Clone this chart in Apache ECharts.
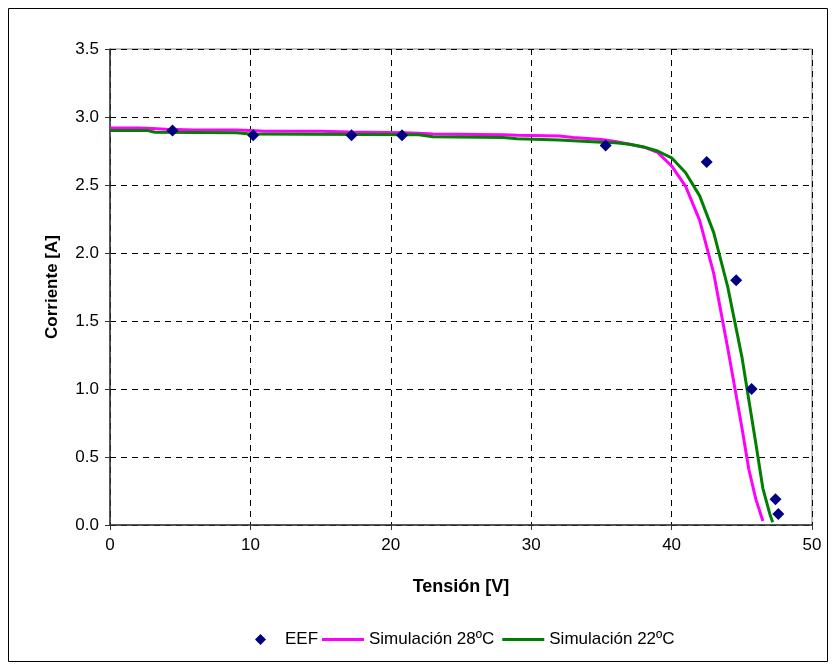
<!DOCTYPE html>
<html>
<head>
<meta charset="utf-8">
<script src="https://cdn.jsdelivr.net/npm/echarts@6/dist/echarts.min.js"></script>
<style>html,body{margin:0;padding:0;background:#fff}#c{width:835px;height:666px}</style>
</head>
<body>
<div id="c"></div>
<script>
const eefV = [4.45, 10.2, 17.2, 20.8, 35.3, 42.5, 44.6, 45.7, 47.4, 47.6];
const eefI = [2.90, 2.865, 2.865, 2.865, 2.79, 2.67, 1.80, 1.00, 0.19, 0.08];

const sim28V = [0, 2, 3, 4, 6, 9, 10, 11, 15, 17, 21, 22, 23, 28, 29, 32, 33, 35, 36, 37, 38, 39, 40, 41, 42, 43, 44, 45, 45.5, 46, 46.5];
const sim28I = [2.92, 2.92, 2.915, 2.91, 2.905, 2.905, 2.90, 2.895, 2.895, 2.89, 2.885, 2.88, 2.875, 2.87, 2.865, 2.86, 2.85, 2.835, 2.82, 2.80, 2.78, 2.74, 2.64, 2.49, 2.24, 1.85, 1.30, 0.72, 0.41, 0.19, 0.03];

const sim22V = [0, 2.7, 3.2, 9, 10, 22, 23, 28, 29, 32, 33, 35, 36, 37, 38, 39, 40, 41, 42, 43, 44, 45, 46, 46.5, 47, 47.2];
const sim22I = [2.90, 2.90, 2.888, 2.885, 2.875, 2.87, 2.855, 2.85, 2.84, 2.83, 2.825, 2.815, 2.81, 2.80, 2.78, 2.75, 2.70, 2.59, 2.42, 2.15, 1.75, 1.24, 0.60, 0.27, 0.08, 0.02];

const xName = 'Tensión [V]';
const yName = 'Corriente [A]';
const names = ['EEF', 'Simulación 28ºC', 'Simulación 22ºC'];

const zip = (a, b) => a.map((v, i) => [v, b[i]]);
const font = 'Liberation Sans, Arial, sans-serif';

const chart = echarts.init(document.getElementById('c'), null, {renderer: 'canvas'});
chart.setOption({
  animation: false,
  backgroundColor: '#fff',
  graphic: [{
    type: 'rect', shape: {x: 8.5, y: 8.5, width: 819, height: 653},
    style: {fill: 'none', stroke: '#000', lineWidth: 1}, silent: true, z: -1
  }],
  grid: {left: 110, right: 23, top: 49, bottom: 141, show: true, borderColor: '#808080', borderWidth: 1},
  xAxis: {
    type: 'value', min: 0, max: 50, interval: 10,
    name: xName, nameLocation: 'middle', nameGap: 53,
    nameTextStyle: {fontFamily: font, fontSize: 18, fontWeight: 'bold', color: '#000'},
    axisLine: {show: true, lineStyle: {color: '#333', width: 1.5}},
    axisTick: {show: true, length: 5, lineStyle: {color: '#333'}},
    axisLabel: {fontFamily: font, fontSize: 17, color: '#000', margin: 12},
    splitLine: {show: true, lineStyle: {color: '#000', type: [6, 5], width: 1}}
  },
  yAxis: {
    type: 'value', min: 0, max: 3.5, interval: 0.5,
    name: yName, nameLocation: 'middle', nameGap: 49, nameRotate: 90,
    nameTextStyle: {fontFamily: font, fontSize: 17, fontWeight: 'bold', color: '#000'},
    axisLine: {show: true, lineStyle: {color: '#333', width: 1.5}},
    axisTick: {show: true, length: 5, lineStyle: {color: '#333'}},
    axisLabel: {fontFamily: font, fontSize: 17, color: '#000', margin: 11, formatter: v => v.toFixed(1)},
    splitLine: {show: true, lineStyle: {color: '#000', type: [6, 5], width: 1}}
  },
  legend: [{
    left: 255, top: 631, padding: 0, itemWidth: 11, itemHeight: 11, itemGap: 8,
    data: [{name: names[0], icon: 'diamond'}],
    textStyle: {fontFamily: font, fontSize: 17, color: '#000', padding: [0, 0, 0, 14]}
  }, {
    left: 322, top: 631, padding: 0, itemWidth: 42, itemHeight: 3, itemGap: 8,
    data: [{name: names[1], icon: 'rect'}, {name: names[2], icon: 'rect'}],
    textStyle: {fontFamily: font, fontSize: 17, color: '#000'}
  }],
  series: [{
    name: names[1], type: 'line', data: zip(sim28V, sim28I), showSymbol: false,
    lineStyle: {color: '#FF00FF', width: 3}, itemStyle: {color: '#FF00FF'}, z: 2
  }, {
    name: names[2], type: 'line', data: zip(sim22V, sim22I), showSymbol: false,
    lineStyle: {color: '#008000', width: 3}, itemStyle: {color: '#008000'}, z: 3
  }, {
    name: names[0], type: 'scatter', data: zip(eefV, eefI), symbol: 'diamond', symbolSize: 12,
    itemStyle: {color: '#000080', opacity: 1}, z: 4
  }]
});
</script>
</body>
</html>
